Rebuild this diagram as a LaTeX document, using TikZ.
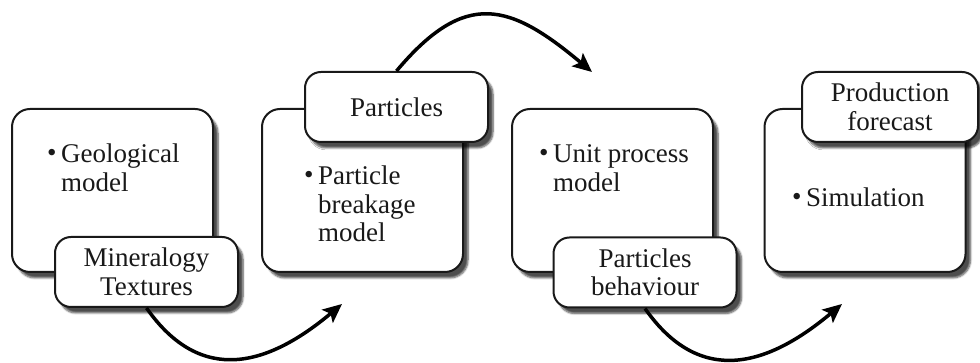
\documentclass[tikz,border=0pt]{standalone}
\usepackage{fontspec}
\setmainfont{Liberation Serif}
\usetikzlibrary{shadows.blur,arrows.meta}
\newcommand{\bul}{\makebox[14pt][l]{\raisebox{0.15ex}{\fontsize{27}{27}\selectfont\textbullet}}}

\begin{document}
\begin{tikzpicture}[x=1pt,y=1pt,
  box/.style={draw=black!90,line width=2pt,rounded corners=18pt,fill=white,minimum width=201pt,minimum height=163pt,blur shadow={shadow xshift=5pt,shadow yshift=-6pt,shadow blur steps=6,shadow opacity=70}},
  tag/.style={draw=black!90,line width=2pt,rounded corners=16pt,fill=white,minimum width=183pt,minimum height=70pt,align=center,inner sep=0pt,text=black!90,font=\fontsize{27}{28.5}\selectfont,blur shadow={shadow xshift=5pt,shadow yshift=-6pt,shadow blur steps=6,shadow opacity=70}},
  item/.style={anchor=base west,align=left,inner sep=0pt,text=black!90,font=\fontsize{27}{28.5}\selectfont},
  flow/.style={line width=3.5pt,black,-{Stealth[length=19pt,width=17pt,inset=4pt]}}]
  \useasboundingbox (0,0) rectangle (980,363);
  % stage boxes
  \node [box] (geo) at (112.5,172.5) {};
  \node [box] (brk) at (362.5,172.5) {};
  \node [box] (unit) at (612.5,172.5) {};
  \node [box] (sim) at (865,172.5) {};
  % bullet texts (base = last line)
  \node [item] (geotxt) at (47,171.5) {\bul Geological\\\hphantom{\bul}model};
  \node [item] (brktxt) at (304,121) {\bul Particle\\\hphantom{\bul}breakage\\\hphantom{\bul}model};
  \node [item] (unittxt) at (539,171.5) {\bul Unit process\\\hphantom{\bul}model};
  \node [item] (simtxt) at (792,156) {\bul Simulation};
  % tags
  \node [tag] (geotag) at (146.5,91) {Mineralogy\\Textures};
  \node [tag] (brktag) at (396.5,256) {Particles};
  \node [tag] (unittag) at (645,90.5) {Particles\\behaviour};
  \node [tag, minimum width=176pt] (simtag) at (890,256) {Production\\forecast};
  % arrow ends
  \coordinate (e1) at (342,59);
  \coordinate (e2) at (592,291);
  \coordinate (e3) at (842,59);
  \draw [flow] (geotag.south) to[out=-55,in=220,looseness=1.25] (e1);
  \draw [flow] (brktag.north) to[out=50,in=140,looseness=1.4] (e2);
  \draw [flow] (unittag.south) to[out=-55,in=220,looseness=1.25] (e3);
\end{tikzpicture}
\end{document}
